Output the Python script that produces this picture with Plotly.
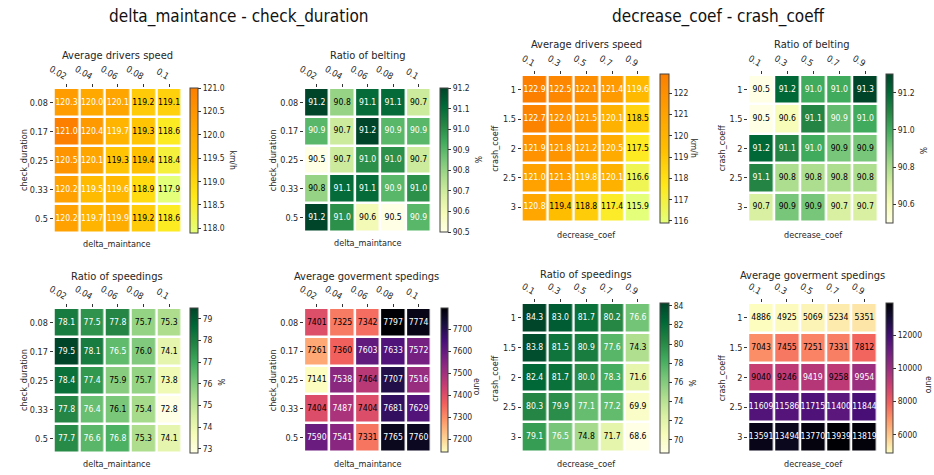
import plotly.graph_objects as go
import plotly.colors as pc

W, H = 934, 475

# ---------------- data ----------------
dm_labels = ["0.02", "0.04", "0.06", "0.08", "0.1"]      # delta_maintance
cd_labels = ["0.08", "0.17", "0.25", "0.33", "0.5"]      # check_duration
dc_labels = ["0.1", "0.3", "0.5", "0.7", "0.9"]          # decrease_coef
cc_labels = ["1", "1.5", "2", "2.5", "3"]                # crash_coeff

speed_dm = [[120.3, 120.0, 120.1, 119.2, 119.1],
            [121.0, 120.4, 119.7, 119.3, 118.6],
            [120.5, 120.1, 119.3, 119.4, 118.4],
            [120.2, 119.5, 119.6, 118.9, 117.9],
            [120.2, 119.7, 119.9, 119.2, 118.6]]

belting_dm = [[91.2, 90.8, 91.1, 91.1, 90.7],
              [90.9, 90.7, 91.2, 90.9, 90.9],
              [90.5, 90.7, 91.0, 91.0, 90.7],
              [90.8, 91.1, 91.1, 90.9, 91.0],
              [91.2, 91.0, 90.6, 90.5, 90.9]]

speedings_dm = [[78.1, 77.5, 77.8, 75.7, 75.3],
                [79.5, 78.1, 76.5, 76.0, 74.1],
                [78.4, 77.4, 75.9, 75.7, 73.8],
                [77.8, 76.4, 76.1, 75.4, 72.8],
                [77.7, 76.6, 76.8, 75.3, 74.1]]

spend_dm = [[7401, 7325, 7342, 7797, 7774],
            [7261, 7360, 7603, 7633, 7572],
            [7141, 7538, 7464, 7707, 7516],
            [7404, 7487, 7404, 7681, 7629],
            [7590, 7541, 7331, 7765, 7760]]

speed_dc = [[122.9, 122.5, 122.1, 121.4, 119.6],
            [122.7, 122.0, 121.5, 120.1, 118.5],
            [121.9, 121.8, 121.2, 120.5, 117.5],
            [121.0, 121.3, 119.8, 120.1, 116.6],
            [120.8, 119.4, 118.8, 117.4, 115.9]]

belting_dc = [[90.5, 91.2, 91.0, 91.0, 91.3],
              [90.5, 90.6, 91.1, 90.94, 91.0],
              [91.2, 91.1, 91.0, 90.9, 90.9],
              [91.1, 90.8, 90.8, 90.8, 90.8],
              [90.7, 90.9, 90.9, 90.7, 90.7]]

speedings_dc = [[84.3, 83.0, 81.7, 80.2, 76.6],
                [83.8, 81.5, 80.9, 77.6, 74.3],
                [82.4, 81.7, 80.0, 78.3, 71.6],
                [80.3, 79.9, 77.1, 77.2, 69.9],
                [79.1, 76.5, 74.8, 71.7, 68.6]]

spend_dc = [[4886, 4925, 5069, 5234, 5351],
            [7043, 7455, 7251, 7331, 7812],
            [9040, 9246, 9419, 9258, 9954],
            [11609, 11586, 11715, 11400, 11844],
            [13591, 13494, 13770, 13939, 13819]]

# ---------------- colour scales ----------------
WISTIA = [[0.0, "#e4ff7a"], [0.25, "#ffe81a"], [0.5, "#ffbd00"],
          [0.75, "#ffa000"], [1.0, "#fc7f00"]]
_ylgn = ["#ffffe5", "#f7fcb9", "#d9f0a3", "#addd8e", "#78c679",
         "#41ab5d", "#238443", "#006837", "#004529"]
YLGN = [[i / (len(_ylgn) - 1), c] for i, c in enumerate(_ylgn)]
_magr = pc.sequential.Magma[::-1]
MAGMA_R = [[i / (len(_magr) - 1), c] for i, c in enumerate(_magr)]

FONT = "DejaVu Sans Condensed, DejaVu Sans, sans-serif"
TXT = "#262626"

# panel layout (pixel boxes): plot (x0,x1,y0,y1), colorbar (x0,x1,y0,y1),
# title (cx,cy), xtitle (cx,cy), ytitle(cx,cy), unit(cx,cy)
panels = [
    dict(z=speed_dm, x=dm_labels, y=cd_labels, title="Average drivers speed",
         xt="delta_maintance", yt="check_duration", unit="km/h", cs=WISTIA,
         fmt="{:.1f}", dtick=0.5, tfmt=".1f",
         box=(48, 177, 88, 233), cb=(185, 193, 88, 233),
         tpos=(112, 55), xtpos=(112, 244), ytpos=(18, 160), upos=(228, 160)),
    dict(z=belting_dm, x=dm_labels, y=cd_labels, title="Ratio of belting",
         xt="delta_maintance", yt="check_duration", unit="%", cs=YLGN,
         fmt="{:.1f}", dtick=0.1, tfmt=".1f",
         box=(300, 428, 88, 232), cb=(437, 445, 88, 232),
         tpos=(364, 55), xtpos=(364, 243), ytpos=(269, 160), upos=(475, 160)),
    dict(z=speed_dc, x=dc_labels, y=cc_labels, title="Average drivers speed",
         xt="decrease_coef", yt="crash_coeff", unit="km/h", cs=WISTIA,
         fmt="{:.1f}", dtick=1, tfmt="d",
         box=(519, 649, 75, 222), cb=(658, 667, 74, 223),
         tpos=(584, 45), xtpos=(584, 235), ytpos=(492, 148), upos=(692, 148)),
    dict(z=belting_dc, x=dc_labels, y=cc_labels, title="Ratio of belting",
         xt="decrease_coef", yt="crash_coeff", unit="%", cs=YLGN,
         fmt="{:.1f}", dtick=0.2, tfmt=".1f",
         box=(747, 878, 75, 222), cb=(886, 893, 74, 223),
         tpos=(811, 45), xtpos=(812, 235), ytpos=(721, 148), upos=(923, 150)),
    dict(z=speedings_dm, x=dm_labels, y=cd_labels, title="Ratio of speedings",
         xt="delta_maintance", yt="check_duration", unit="%", cs=YLGN,
         fmt="{:.1f}", dtick=1, tfmt="d",
         box=(48, 177, 308, 453), cb=(185, 193, 308, 453),
         tpos=(112, 276), xtpos=(112, 464), ytpos=(18, 380), upos=(216, 382)),
    dict(z=spend_dm, x=dm_labels, y=cd_labels, title="Average goverment spedings",
         xt="delta_maintance", yt="check_duration", unit="euro", cs=MAGMA_R,
         fmt="{:.0f}", dtick=100, tfmt="d",
         box=(300, 428, 308, 452), cb=(438, 445, 308, 452),
         tpos=(363, 276), xtpos=(364, 464), ytpos=(269, 380), upos=(474, 387)),
    dict(z=speedings_dc, x=dc_labels, y=cc_labels, title="Ratio of speedings",
         xt="decrease_coef", yt="crash_coeff", unit="%", cs=YLGN,
         fmt="{:.1f}", dtick=2, tfmt="d",
         box=(519, 649, 303, 452), cb=(658, 667, 303, 453),
         tpos=(584, 274), xtpos=(584, 464), ytpos=(492, 378), upos=(690, 383)),
    dict(z=spend_dc, x=dc_labels, y=cc_labels, title="Average goverment spedings",
         xt="decrease_coef", yt="crash_coeff", unit="euro", cs=MAGMA_R,
         fmt="{:.0f}", dtick=2000, tfmt="d",
         box=(747, 877, 303, 452), cb=(886, 893, 303, 453),
         tpos=(812, 275), xtpos=(812, 464), ytpos=(721, 378), upos=(929, 385)),
]


def px(v):
    return v / W


def py(v):
    return 1 - v / H


fig = go.Figure()
annotations = []

for i, p in enumerate(panels, start=1):
    xa = "x" if i == 1 else f"x{i}"
    ya = "y" if i == 1 else f"y{i}"
    z = p["z"]
    flat = [v for row in z for v in row]
    zmin, zmax = min(flat), max(flat)
    cx0, cx1, cy0, cy1 = p["cb"]

    fig.add_trace(go.Heatmap(
        z=z, x=p["x"], y=p["y"], xaxis=xa, yaxis=ya,
        colorscale=p["cs"], zmin=zmin, zmax=zmax,
        xgap=2.5, ygap=2.5, hoverinfo="skip",
        colorbar=dict(
            x=px(cx0), xanchor="left", xpad=0,
            y=py(cy0), yanchor="top", ypad=0,
            thickness=cx1 - cx0, lenmode="pixels", len=cy1 - cy0,
            outlinewidth=1, outlinecolor="#444444",
            ticks="outside", ticklen=3, tickwidth=1, tickcolor="#333333",
            tick0=0, dtick=p["dtick"], tickformat=p["tfmt"],
            tickfont=dict(family=FONT, size=8.5, color=TXT),
        ),
    ))

    xs, ys, txt, cols = [], [], [], []
    for r, row in enumerate(z):
        for c, v in enumerate(row):
            xs.append(p["x"][c])
            ys.append(p["y"][r])
            txt.append(p["fmt"].format(v))
            n = (v - zmin) / (zmax - zmin)
            cols.append("white" if n > 0.5 + 1e-9 else "black")
    fig.add_trace(go.Scatter(
        x=xs, y=ys, xaxis=xa, yaxis=ya, mode="text", text=txt,
        textposition="middle center",
        textfont=dict(family=FONT, size=8.6, color=cols),
        hoverinfo="skip", showlegend=False,
    ))

    bx0, bx1, by0, by1 = p["box"]
    ax_common = dict(type="category", showgrid=False, zeroline=False,
                     showline=False, ticks="outside", ticklen=3, tickwidth=1,
                     tickcolor="#333333", fixedrange=True,
                     tickfont=dict(family=FONT, size=9, color=TXT))
    fig.layout[xa.replace("x", "xaxis")] = dict(
        domain=[px(bx0), px(bx1)], anchor=ya, side="top", tickangle=30,
        categoryorder="array", categoryarray=p["x"], **ax_common)
    fig.layout[ya.replace("y", "yaxis")] = dict(
        domain=[py(by1), py(by0)], anchor=xa, autorange="reversed",
        categoryorder="array", categoryarray=p["y"], **ax_common)

    tx, ty = p["tpos"]
    annotations.append(dict(text=p["title"], x=px(tx), y=py(ty), xref="paper",
                            yref="paper", showarrow=False, xanchor="center",
                            yanchor="middle",
                            font=dict(family=FONT, size=11, color=TXT)))
    tx, ty = p["xtpos"]
    annotations.append(dict(text=p["xt"], x=px(tx), y=py(ty), xref="paper",
                            yref="paper", showarrow=False, xanchor="center",
                            yanchor="middle",
                            font=dict(family=FONT, size=9, color=TXT)))
    tx, ty = p["ytpos"]
    annotations.append(dict(text=p["yt"], x=px(tx), y=py(ty), xref="paper",
                            yref="paper", showarrow=False, xanchor="center",
                            yanchor="middle", textangle=-90,
                            font=dict(family=FONT, size=9, color=TXT)))
    tx, ty = p["upos"]
    annotations.append(dict(text=p["unit"], x=px(tx), y=py(ty), xref="paper",
                            yref="paper", showarrow=False, xanchor="center",
                            yanchor="middle", textangle=90,
                            font=dict(family=FONT, size=8.5, color=TXT)))

annotations.append(dict(text="delta_maintance - check_duration", x=px(235), y=py(17),
                        xref="paper", yref="paper", showarrow=False,
                        xanchor="center", yanchor="middle",
                        font=dict(family=FONT, size=17, color="#111111")))
annotations.append(dict(text="decrease_coef - crash_coeff", x=px(717), y=py(17),
                        xref="paper", yref="paper", showarrow=False,
                        xanchor="center", yanchor="middle",
                        font=dict(family=FONT, size=17, color="#111111")))

fig.update_layout(width=W, height=H, margin=dict(l=0, r=0, t=0, b=0),
                  paper_bgcolor="white", plot_bgcolor="white",
                  annotations=annotations, showlegend=False)

fig.write_html("out.html", config={"displayModeBar": False},
               post_script="document.body.style.margin='0px';")
